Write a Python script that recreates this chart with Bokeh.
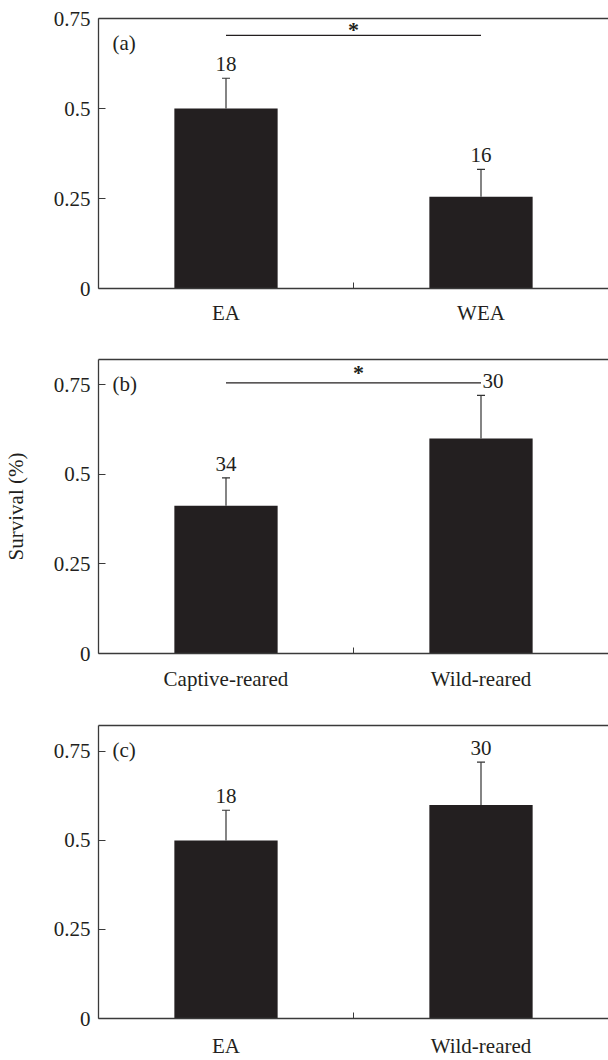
from bokeh.plotting import figure
from bokeh.models import (ColumnDataSource, FixedTicker, LinearAxis, Range1d,
                          Whisker, TeeHead, Label, LabelSet)
from bokeh.layouts import column
from bokeh.embed import file_html
from bokeh.resources import INLINE

# ---------------- data ----------------
cats_a = ["EA", "WEA"]
mean_a = [0.500, 0.255]
err_a = [0.084, 0.076]
n_a = ["18", "16"]

cats_b = ["Captive-reared", "Wild-reared"]
mean_b = [0.412, 0.600]
err_b = [0.078, 0.120]
n_b = ["34", "30"]

cats_c = ["EA", "Wild-reared"]
mean_c = [0.500, 0.600]
err_c = [0.085, 0.120]
n_c = ["18", "30"]

y_ticks = [0, 0.25, 0.5, 0.75]
y_tick_labels = ["0", "0.25", "0.5", "0.75"]
panel_letters = ["(a)", "(b)", "(c)"]
y_max = [0.75, 0.82, 0.823]
sig_level = [0.703, 0.755, None]
sig_text = "*"
y_title = "Survival (%)"

# ---------------- style ----------------
INK = "#231f20"
AXIS = "#3a3a3a"
ERR = "#333333"
FONT = "Liberation Serif"
FS = "21px"


def make_panel(cats, means, errs, ns, letter, ymax, sig, height, top, bottom,
               x_standoff, ytitle=None, n_dx=(0, 0), star_dy=0, star_dx=0):
    p = figure(width=608, height=height, x_range=Range1d(0, 2),
               y_range=Range1d(0, ymax), output_backend="svg",
               toolbar_location=None, min_border_left=96, min_border_right=0,
               min_border_top=top, min_border_bottom=bottom)
    p.outline_line_color = None
    p.xgrid.visible = False
    p.ygrid.visible = False
    p.background_fill_color = "white"
    p.border_fill_color = "white"

    xs = [i + 0.5 for i in range(len(cats))]
    tops = [m + e for m, e in zip(means, errs)]
    src = ColumnDataSource(dict(x=xs, m=means, t=tops, n=ns, dx=list(n_dx)))

    p.vbar(x="x", top="m", bottom=0, width=0.405, source=src,
           fill_color=INK, line_color=None)

    w = Whisker(base="x", lower="m", upper="t", source=src,
                line_color=ERR, line_width=1.2,
                upper_head=TeeHead(size=8, line_color=ERR, line_width=1.2),
                lower_head=None, level="annotation")
    p.add_layout(w)

    p.add_layout(LabelSet(x="x", y="t", text="n", source=src, x_offset="dx",
                          y_offset=7, text_align="center",
                          text_baseline="alphabetic", text_font=FONT,
                          text_font_size=FS, text_color=INK))

    p.add_layout(Label(x=0, y=ymax, x_offset=14, y_offset=-24, text=letter,
                       text_align="left", text_baseline="middle",
                       text_font=FONT, text_font_size=FS, text_color=INK))

    if sig is not None:
        p.segment(x0=[xs[0]], y0=[sig], x1=[xs[1]], y1=[sig],
                  line_color=INK, line_width=1.2)
        p.add_layout(Label(x=(xs[0] + xs[1]) / 2, y=sig, x_offset=star_dx,
                           y_offset=star_dy, text=sig_text,
                           text_align="center", text_baseline="alphabetic",
                           text_font=FONT, text_font_size="22px",
                           text_font_style="bold", text_color=INK))

    # x axis
    xa = p.xaxis[0]
    xa.ticker = FixedTicker(ticks=xs, minor_ticks=[1.0])
    xa.major_label_overrides = {x: c for x, c in zip(xs, cats)}
    xa.major_tick_line_color = None
    xa.minor_tick_in = 6
    xa.minor_tick_out = 0
    xa.minor_tick_line_color = AXIS
    xa.axis_line_color = AXIS
    xa.axis_line_width = 1.3
    xa.major_label_standoff = x_standoff
    xa.major_label_text_font = FONT
    xa.major_label_text_font_size = FS
    xa.major_label_text_color = INK

    # y axis
    ya = p.yaxis[0]
    ya.ticker = FixedTicker(ticks=y_ticks)
    ya.major_label_overrides = dict(zip(y_ticks, y_tick_labels))
    ya.major_tick_in = 7
    ya.major_tick_out = 0
    ya.major_tick_line_color = AXIS
    ya.minor_tick_line_color = None
    ya.axis_line_color = AXIS
    ya.axis_line_width = 1.3
    ya.major_label_standoff = 8
    ya.major_label_text_font = FONT
    ya.major_label_text_font_size = FS
    ya.major_label_text_color = INK
    if ytitle:
        ya.axis_label = ytitle
        ya.axis_label_standoff = 23
        ya.axis_label_text_font = FONT
        ya.axis_label_text_font_size = FS
        ya.axis_label_text_font_style = "normal"
        ya.axis_label_text_color = INK

    # top frame line
    top_axis = LinearAxis(ticker=FixedTicker(ticks=[]),
                          major_label_text_font_size="0px",
                          major_tick_line_color=None,
                          minor_tick_line_color=None,
                          axis_line_color=AXIS, axis_line_width=1.3)
    p.add_layout(top_axis, "above")
    return p


p1 = make_panel(cats_a, mean_a, err_a, n_a, panel_letters[0], y_max[0],
                sig_level[0], height=340, top=18, bottom=52, x_standoff=6,
                star_dy=5.5)
p2 = make_panel(cats_b, mean_b, err_b, n_b, panel_letters[1], y_max[1],
                sig_level[1], height=365, top=19, bottom=52, x_standoff=7,
                ytitle=y_title, n_dx=(0, 12), star_dy=10, star_dx=5)
p3 = make_panel(cats_c, mean_c, err_c, n_c, panel_letters[2], y_max[2],
                sig_level[2], height=355, top=20, bottom=40, x_standoff=9)

layout = column(p1, p2, p3)
open("out.html", "w").write(file_html(layout, INLINE))
